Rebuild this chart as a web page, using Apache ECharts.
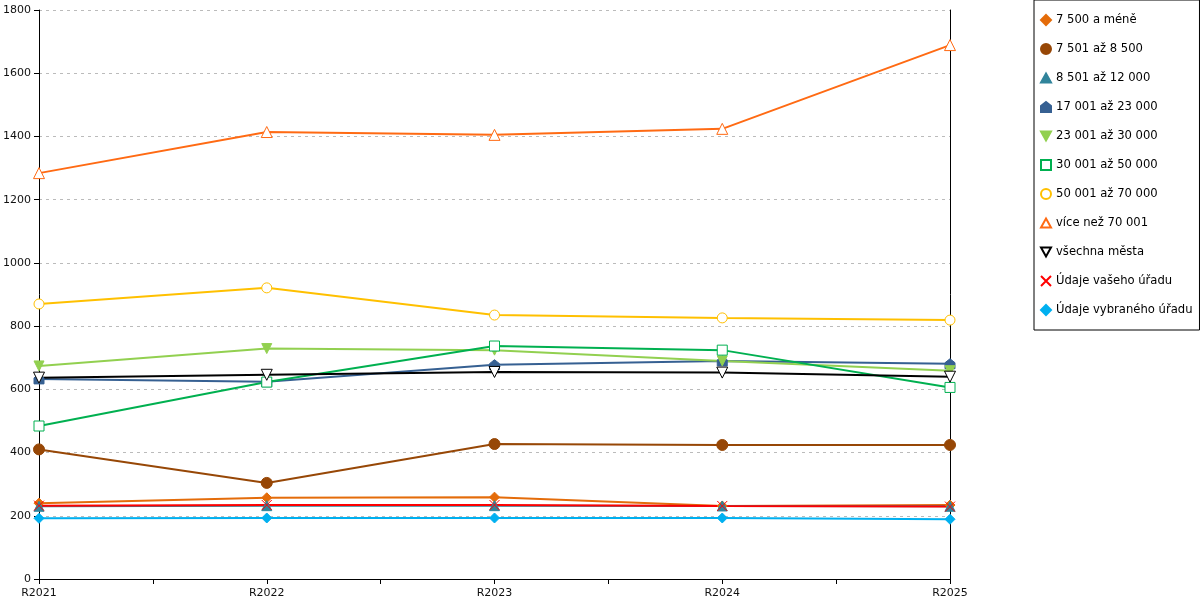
<!DOCTYPE html>
<html>
<head>
<meta charset="utf-8">
<script src="https://cdn.jsdelivr.net/npm/echarts@6/dist/echarts.min.js"></script>
<style>
  html, body { margin: 0; padding: 0; background: #fff; }
  #chart { width: 1200px; height: 600px; }
</style>
</head>
<body>
<div id="chart"></div>
<script>
var categories = ["R2021", "R2022", "R2023", "R2024", "R2025"];
var yTicks = [0, 1800, 200]; // min, max, interval

var names = [
  "7 500 a méně",
  "7 501 až 8 500",
  "8 501 až 12 000",
  "17 001 až 23 000",
  "23 001 až 30 000",
  "30 001 až 50 000",
  "50 001 až 70 000",
  "více než 70 001",
  "všechna města",
  "Údaje vašeho úřadu",
  "Údaje vybraného úřadu"
];

var v7500 = [240, 257, 259, 231, 234];
var v8500 = [410, 304, 427, 424, 424];
var v12000 = [230, 232, 232, 231, 230];
var v23000 = [633, 624, 678, 690, 681];
var v30000 = [674, 729, 724, 690, 659];
var v50000 = [484, 623, 737, 724, 606];
var v70000 = [870, 921, 835, 826, 819];
var vOver70001 = [1284, 1414, 1405, 1424, 1689];
var vAllCities = [637, 646, 655, 653, 640];
var vYourOffice = [232, 234, 234, 231, 229];
var vSelectedOffice = [192, 193, 193, 193, 189];

var seriesValues = [v7500, v8500, v12000, v23000, v30000, v50000, v70000,
  vOver70001, vAllCities, vYourOffice, vSelectedOffice];

var TRI_UP = "path://M5,0 L10,9 L0,9 Z";
var TRI_DOWN = "path://M0,0 L10,0 L5,9 Z";
var HOUSE = "path://M5,0 L10,4 L10,10 L0,10 L0,4 Z";
var CROSS = "path://M0,0 L10,10 M10,0 L0,10";

// look of each series: color, marker, marker size, hollow
var looks = [
  { color: "#E46C0A", symbol: "diamond", size: 10 },
  { color: "#974706", symbol: "circle", size: 11 },
  { color: "#31849B", symbol: TRI_UP, size: 10 },
  { color: "#366092", symbol: HOUSE, size: 10 },
  { color: "#92D050", symbol: TRI_DOWN, size: 10 },
  { color: "#00B050", symbol: "rect", size: 10, hollow: true },
  { color: "#FFC000", symbol: "circle", size: 10, hollow: true },
  { color: "#FF6A13", symbol: TRI_UP, size: 11, hollow: true },
  { color: "#000000", symbol: TRI_DOWN, size: 11, hollow: true },
  { color: "#FF0000", symbol: CROSS, size: 10 },
  { color: "#00B0F0", symbol: "diamond", size: 10 }
];

var chart = echarts.init(document.getElementById("chart"));

var series = names.map(function (name, i) {
  var look = looks[i];
  return {
    name: name,
    type: "line",
    data: seriesValues[i].map(function (v, k) { return [k, v]; }),
    symbol: look.symbol,
    symbolSize: look.size,
    showAllSymbol: true,
    lineStyle: { color: look.color, width: 2 },
    itemStyle: {
      color: look.hollow ? "#fff" : look.color,
      borderColor: look.color,
      borderWidth: 1
    },
    emphasis: { disabled: true },
    animation: false
  };
});

var option = {
  backgroundColor: "#fff",
  animation: false,
  textStyle: { fontFamily: "DejaVu Sans" },
  grid: { left: 39, right: 250, top: 10, bottom: 21 },
  legend: {
    orient: "vertical",
    left: 1034,
    top: 0,
    padding: [14, 7, 14, 6],
    itemGap: 17,
    itemWidth: 10,
    itemHeight: 10,
    borderColor: "#000",
    borderWidth: 1,
    textStyle: { fontSize: 11.6, color: "#000", fontFamily: "DejaVu Sans" },
    data: names.map(function (n, i) {
      return { name: n, icon: looks[i].symbol };
    })
  },
  xAxis: {
    type: "value",
    min: 0,
    max: categories.length - 1,
    interval: 0.5,
    axisLine: { lineStyle: { color: "#000", width: 1 } },
    axisTick: { show: true, length: 5, lineStyle: { color: "#000" } },
    splitLine: { show: false },
    axisLabel: {
      fontSize: 11,
      color: "#111",
      margin: 9,
      showMinLabel: true,
      showMaxLabel: true,
      formatter: function (v) {
        return Number.isInteger(v) ? categories[v] : "";
      }
    }
  },
  yAxis: [
    {
      type: "value",
      min: yTicks[0],
      max: yTicks[1],
      interval: yTicks[2],
      axisLine: { show: true, lineStyle: { color: "#000" } },
      axisTick: { show: true, length: 5, lineStyle: { color: "#000" } },
      splitLine: { show: true, lineStyle: { color: "#bbb", type: [3, 4] } },
      axisLabel: {
        fontSize: 11,
        color: "#111",
        margin: 8,
        formatter: function (v) { return String(v); }
      }
    },
    {
      type: "value",
      position: "right",
      min: yTicks[0],
      max: yTicks[1],
      interval: yTicks[2],
      axisLine: { show: true, lineStyle: { color: "#000" } },
      axisTick: { show: false },
      axisLabel: { show: false },
      splitLine: { show: false }
    }
  ],
  series: series
};

chart.setOption(option);
</script>
</body>
</html>
